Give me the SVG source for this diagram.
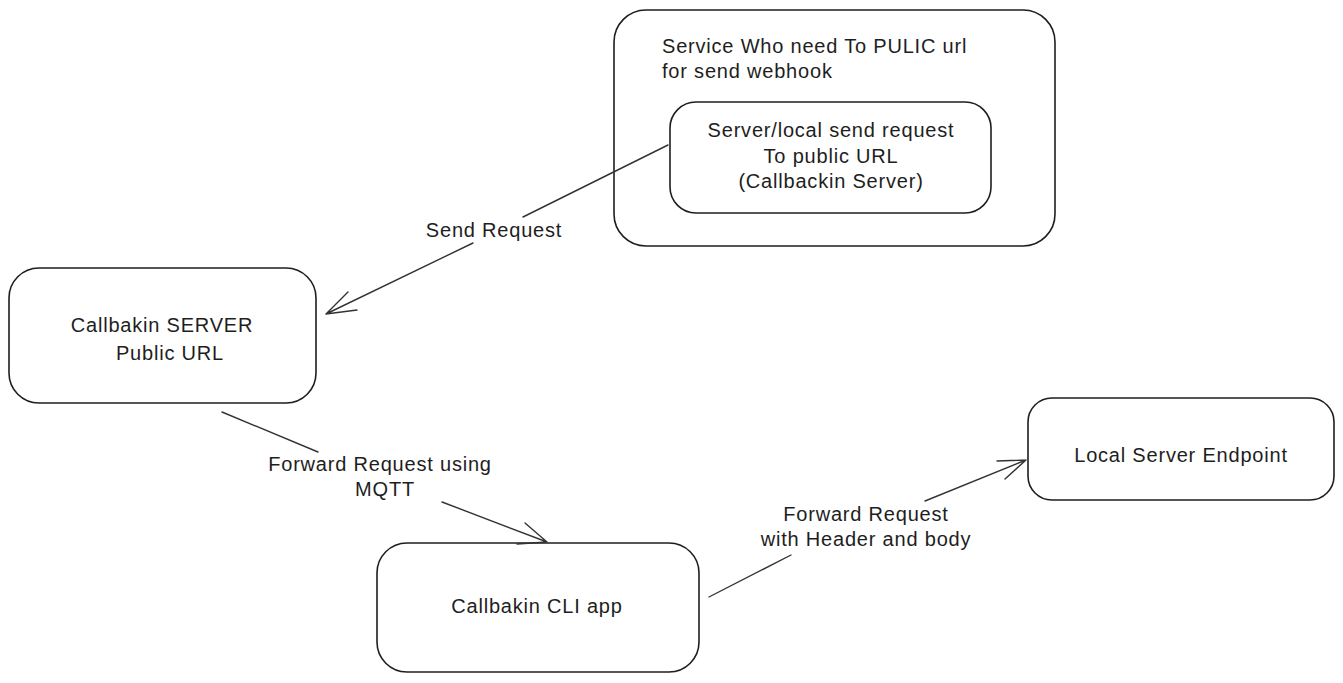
<svg xmlns="http://www.w3.org/2000/svg" width="1343" height="683" viewBox="0 0 1343 683">
<style>
.box{fill:none;stroke:#1e1e1e;stroke-width:1.6}
.lbl{font-family:"Liberation Sans","Open Sans",sans-serif;font-size:20px;letter-spacing:0.8px;fill:#1e1e1e}
.mid{text-anchor:middle}
.edge{fill:none;stroke:#333;stroke-width:1.4;stroke-linecap:round;stroke-linejoin:round}
</style>
<rect width="1343" height="683" fill="#ffffff"/>
<g id="node-service">
<rect class="box" x="614" y="10" width="441" height="236" rx="32" ry="32"/>
<text class="lbl" x="662" y="53">Service Who need To PULIC url</text>
<text class="lbl" x="662" y="78">for send webhook</text>
</g>
<g id="node-server-local">
<rect class="box" x="670" y="102" width="321" height="111" rx="26" ry="26"/>
<text class="lbl mid" x="831" y="137">Server/local send request</text>
<text class="lbl mid" x="831" y="163">To public URL</text>
<text class="lbl mid" x="831" y="188">(Callbackin Server)</text>
</g>
<g id="node-callbakin-server">
<rect class="box" x="9" y="268" width="307" height="135" rx="30" ry="30"/>
<text class="lbl mid" x="162" y="332">Callbakin SERVER</text>
<text class="lbl mid" x="170" y="360">Public URL</text>
</g>
<g id="node-local-endpoint">
<rect class="box" x="1028" y="398" width="306" height="102" rx="24" ry="24"/>
<text class="lbl mid" x="1181" y="462">Local Server Endpoint</text>
</g>
<g id="node-cli">
<rect class="box" x="377" y="543" width="322" height="129" rx="30" ry="30"/>
<text class="lbl mid" x="537" y="613">Callbakin CLI app</text>
</g>
<g id="connectors">
<path class="edge" d="M668 145 L523 217 M473 243 L326 314 M348 292 L326 314 L357 310"/>
<text class="lbl mid" x="494" y="237">Send Request</text>
<path class="edge" d="M222 412 L318 452 M442 502 L547 542 M525 523 L547 542 L517 544"/>
<text class="lbl mid" x="380" y="471">Forward Request using</text>
<text class="lbl mid" x="385" y="496">MQTT</text>
<path class="edge" d="M709 597 L791 555 M925 501 L1026 460 M997 461 L1026 460 L1005 479"/>
<text class="lbl mid" x="866" y="521">Forward Request</text>
<text class="lbl mid" x="866" y="546">with Header and body</text>
</g>
</svg>
